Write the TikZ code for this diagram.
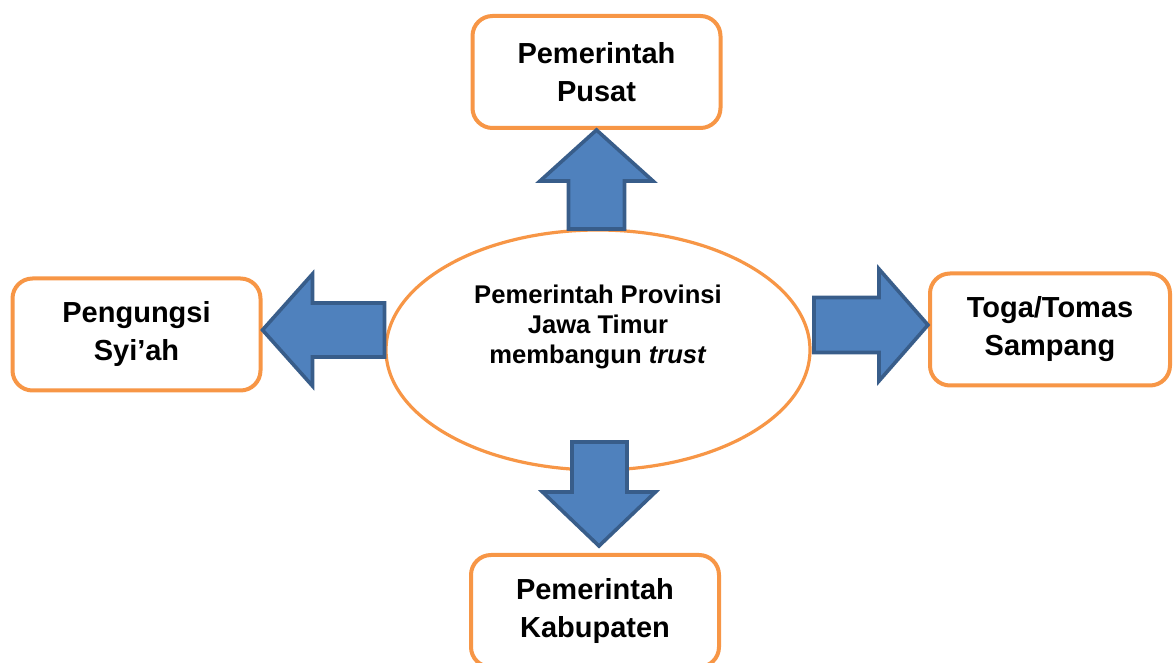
\documentclass[tikz,border=0pt]{standalone}
\usepackage{fontspec}
\setmainfont{Liberation Sans}
\usepackage{xcolor}
\usetikzlibrary{shapes.geometric}

\definecolor{boxorange}{HTML}{F79646}
\definecolor{arrowblue}{HTML}{4F81BD}
\definecolor{arrowline}{HTML}{385D8A}

\begin{document}
\begin{tikzpicture}[x=0.5pt,y=-0.5pt]
\tikzset{endbox/.style={draw=boxorange,line width=2pt,rounded corners=10pt,fill=white,
  minimum width=124pt,minimum height=56pt,align=center,
  font=\bfseries\fontsize{14.5}{19}\selectfont}}
\tikzset{hub/.style={ellipse,draw=boxorange,line width=1.6pt,fill=white,
  minimum width=212pt,minimum height=120pt,inner sep=0pt}}
\tikzset{hubtext/.style={align=center,font=\bfseries\fontsize{12.8}{15}\selectfont}}
\tikzset{bigarrow/.style={draw=arrowline,line width=1.8pt,fill=arrowblue,line join=miter}}

\useasboundingbox (0,0) rectangle (1175,663);
\clip (0,0) rectangle (1175,663);

\node[hub] (prov) at (598,350) {};
\node[hubtext] (provtext) at ([yshift=11.5pt]prov.center) {Pemerintah Provinsi\\Jawa Timur\\membangun \textit{trust}};

\node[endbox] (pusat) at (596.5,72) {Pemerintah\\Pusat};
\node[endbox] (syiah) at (136.5,334.5) {Pengungsi\\Syi’ah};
\node[endbox,minimum width=120pt] (toga) at (1050,329.5) {Toga/Tomas\\Sampang};
\node[endbox] (kab) at (595,611) {Pemerintah\\Kabupaten};

% up
\draw[bigarrow] (pusat.south) -- ++(56.5,51) -- ++(-28.5,0) -- ++(0,48) -- ++(-56,0)
  -- ++(0,-48) -- ++(-28.5,0) -- cycle;
% left
\draw[bigarrow] ([yshift=2.25pt]syiah.east) -- ++(50,-56) -- ++(0,29) -- ++(72,0) -- ++(0,54)
  -- ++(-72,0) -- ++(0,29) -- cycle;
% right
\draw[bigarrow] ([yshift=2.25pt]toga.west) -- ++(-49,-56) -- ++(0,28.5) -- ++(-65,0) -- ++(0,55)
  -- ++(65,0) -- ++(0,28.5) -- cycle;
% down
\draw[bigarrow] ([xshift=2pt,yshift=3.5pt]kab.north) -- ++(56.5,-54) -- ++(-28.5,0) -- ++(0,-50)
  -- ++(-55,0) -- ++(0,50) -- ++(-29.5,0) -- cycle;

\end{tikzpicture}
\end{document}
